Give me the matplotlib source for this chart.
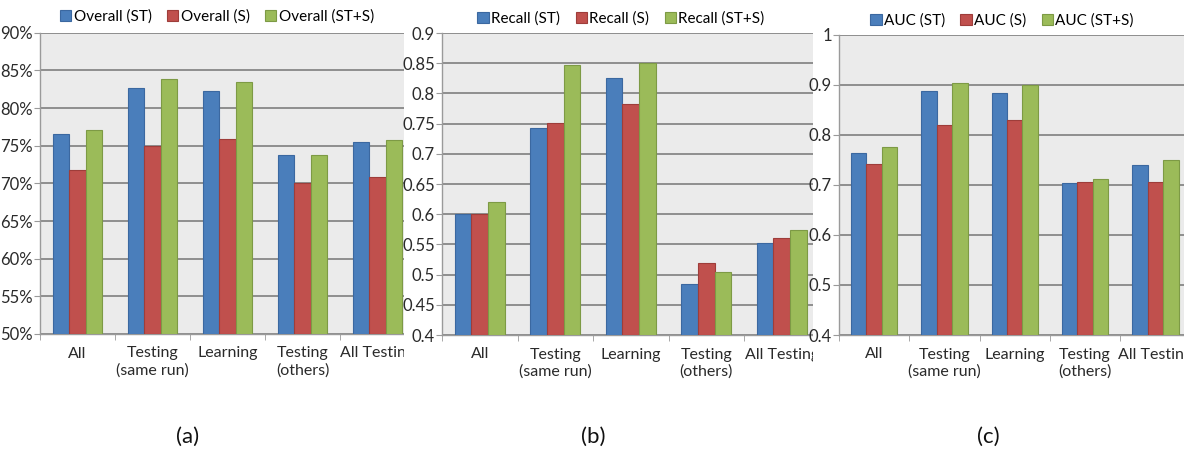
import numpy as np
import matplotlib
matplotlib.use('Agg')
import matplotlib.pyplot as plt
from matplotlib.patches import Rectangle
from matplotlib.ticker import FuncFormatter

# category names on the x axis
categories = ['All', 'Testing\n(same run)', 'Learning', 'Testing\n(others)', 'All Testing']

# (a) overall accuracy, percent
overall_st = [76.6, 82.7, 82.2, 73.8, 75.5]
overall_s = [71.8, 75.0, 75.9, 70.0, 70.9]
overall_sts = [77.1, 83.8, 83.5, 73.8, 75.7]

# (b) recall
recall_st = [0.600, 0.742, 0.826, 0.485, 0.553]
recall_s = [0.600, 0.751, 0.782, 0.520, 0.560]
recall_sts = [0.620, 0.847, 0.851, 0.505, 0.574]

# (c) AUC
auc_st = [0.763, 0.888, 0.884, 0.703, 0.740]
auc_s = [0.741, 0.820, 0.830, 0.706, 0.706]
auc_sts = [0.776, 0.903, 0.900, 0.712, 0.750]

W, H = 1195.0, 453.0
FONT = ['Lato', 'DejaVu Sans']
colors = ['#4a7ebb', '#c0504d', '#9bbb59'];
edges = ['#3b68a0', '#9e3d3a', '#7d9a45'];

def px_axes(fig, x0, y_top, x1, y_bot, z):
    #pixel box -> figure fraction
    ax = fig.add_axes([x0/W, 1-y_bot/H, (x1-x0)/W, (y_bot-y_top)/H], zorder=z);
    return ax;

def draw_panel(ax, series, names, ylim, yticks, fmt, leg_x, leg_y):
    x = np.arange(len(categories));
    bw = 0.22;
    bars = [];
    for k in range(0,3):
        b = ax.bar(x + (k-1)*bw, np.array(series[k]) - ylim[0], bw, bottom=ylim[0],
                   color=colors[k], edgecolor=edges[k], linewidth=0.8, zorder=3, label=names[k]);
        bars.append(b);
    ax.set_facecolor('#ebebeb');
    ax.set_xlim(-0.5, len(categories)-0.5);
    ax.set_ylim(ylim);
    ax.set_yticks(yticks);
    ax.yaxis.set_major_formatter(FuncFormatter(fmt));
    ax.grid(axis='y', color='#8e8e8e', linewidth=1.4, zorder=1);
    ax.set_axisbelow(True);
    for s in ['top','right']:
        ax.spines[s].set_visible(False);
    for s in ['left','bottom']:
        ax.spines[s].set_color('#9a9a9a');
        ax.spines[s].set_linewidth(1.0);
    ax.set_xticks(x);
    ax.set_xticklabels(categories, fontsize=11.5, family=FONT, color='#2a2a2a', linespacing=1.25);
    ax.set_xticks(np.arange(-0.5, len(categories)), minor=True);
    ax.tick_params(axis='x', which='major', length=0, pad=9);
    ax.tick_params(axis='x', which='minor', length=4, color='#9a9a9a');
    ax.tick_params(axis='y', length=4, color='#9a9a9a', labelsize=12, labelcolor='#2a2a2a', pad=1);
    for lab in ax.get_yticklabels():
        lab.set_family(FONT);
    fig = ax.figure;
    fig.legend(handles=bars, labels=names, loc='center', bbox_to_anchor=(leg_x/W, 1-leg_y/H),
               ncol=3, frameon=False, handlelength=0.75, handleheight=0.75, handletextpad=0.15,
               columnspacing=1.0, prop={'family': FONT, 'size': 11});
    return 0;

def main():
    fig = plt.figure(figsize=(W/100, H/100), dpi=100);
    fig.patch.set_facecolor('white');

    ax_a = px_axes(fig, 40, 32.7, 415, 334, 1);
    draw_panel(ax_a, [overall_st, overall_s, overall_sts],
               ['Overall (ST)', 'Overall (S)', 'Overall (ST+S)'],
               (50, 90), np.arange(50, 91, 5), lambda v, p: '%d%%' % v, 217, 17);

    # panel (b) sits on top of the right end of (a)
    fig.patches.append(Rectangle((404/W, 0), (813-404)/W, 1, transform=fig.transFigure,
                                 facecolor='white', edgecolor='none', zorder=1.5));
    ax_b = px_axes(fig, 442, 33, 819.5, 335, 2);
    draw_panel(ax_b, [recall_st, recall_s, recall_sts],
               ['Recall (ST)', 'Recall (S)', 'Recall (ST+S)'],
               (0.4, 0.9), np.arange(0.4, 0.91, 0.05), lambda v, p: ('%.2f' % v).rstrip('0').rstrip('.'), 621, 19);

    # panel (c) on top of (b)
    fig.patches.append(Rectangle((813/W, 0), (1183-813)/W, 1, transform=fig.transFigure,
                                 facecolor='white', edgecolor='none', zorder=2.5));
    ax_c = px_axes(fig, 839, 34.5, 1190.5, 335, 3);
    draw_panel(ax_c, [auc_st, auc_s, auc_sts],
               ['AUC (ST)', 'AUC (S)', 'AUC (ST+S)'],
               (0.4, 1.0), np.arange(0.4, 1.01, 0.1), lambda v, p: ('%.1f' % v).rstrip('0').rstrip('.'), 1002, 21);
    fig.patches.append(Rectangle((1184/W, 0), (W-1184)/W, 1, transform=fig.transFigure,
                                 facecolor='white', edgecolor='none', zorder=3.5));

    for lab, xc in [('(a)', 188), ('(b)', 593), ('(c)', 988)]:
        fig.text(xc/W, 1-437/H, lab, ha='center', va='center', fontsize=16,
                 family=FONT, color='#111111');

    fig.savefig('out.png', dpi=100);
    return 0;

if __name__=="__main__":
    main()
